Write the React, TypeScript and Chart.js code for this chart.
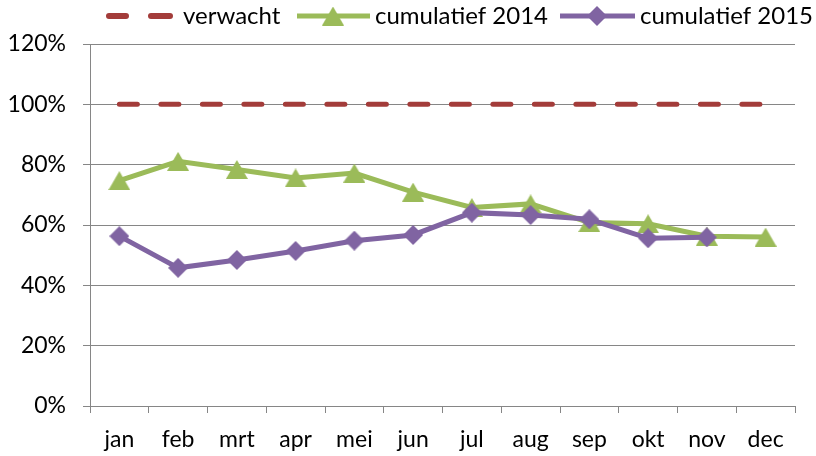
import React, { useEffect, useRef } from 'react';
import { Chart, registerables } from 'chart.js';

Chart.register(...registerables);

const months = ['jan', 'feb', 'mrt', 'apr', 'mei', 'jun', 'jul', 'aug', 'sep', 'okt', 'nov', 'dec'];
const verwacht = [100, 100, 100, 100, 100, 100, 100, 100, 100, 100, 100, 100];
const cumulatief2014 = [74.7, 81.1, 78.4, 75.6, 77.2, 70.9, 65.8, 67.0, 60.8, 60.4, 56.3, 56.0];
const cumulatief2015 = [56.3, 45.8, 48.4, 51.4, 54.8, 56.7, 64.1, 63.3, 61.9, 55.6, 55.9, null];
const yMin = 0;
const yMax = 120;
const yStep = 20;
const seriesNames = ['verwacht', 'cumulatief 2014', 'cumulatief 2015'];

const RED = '#A33C3A';
const GREEN = '#9BBB59';
const PURPLE = '#8064A2';
const GRID = '#868686';
const FONT = 'Lato';
const FSIZE = 23;
const LSIZE = 24;

function makeTriangle(color: string, w: number, h: number) {
  const c = document.createElement('canvas');
  c.width = w;
  c.height = h;
  const ctx = c.getContext('2d')!;
  ctx.fillStyle = color;
  ctx.beginPath();
  ctx.moveTo(w / 2, 0);
  ctx.lineTo(w, h);
  ctx.lineTo(0, h);
  ctx.closePath();
  ctx.fill();
  return c;
}

function makeDiamond(color: string, w: number, h: number) {
  const c = document.createElement('canvas');
  c.width = w;
  c.height = h;
  const ctx = c.getContext('2d')!;
  ctx.fillStyle = color;
  ctx.beginPath();
  ctx.moveTo(w / 2, 0);
  ctx.lineTo(w, h / 2);
  ctx.lineTo(w / 2, h);
  ctx.lineTo(0, h / 2);
  ctx.closePath();
  ctx.fill();
  return c;
}

export default function App() {
  const ref = useRef<HTMLCanvasElement | null>(null);

  useEffect(() => {
    if (!ref.current) return;
    const tri = makeTriangle(GREEN, 22, 19);
    const dia = makeDiamond(PURPLE, 20, 20);

    const legendPlugin = {
      id: 'customLegend',
      afterDraw(chart: any) {
        const ctx = chart.ctx;
        const y = 16;
        ctx.save();
        ctx.strokeStyle = RED;
        ctx.lineWidth = 6;
        ctx.lineCap = 'round';
        ctx.beginPath();
        ctx.moveTo(109, y);
        ctx.lineTo(126, y);
        ctx.moveTo(151, y);
        ctx.lineTo(170, y);
        ctx.stroke();
        ctx.lineCap = 'butt';
        ctx.lineWidth = 5;
        ctx.strokeStyle = GREEN;
        ctx.beginPath();
        ctx.moveTo(297, y);
        ctx.lineTo(370, y);
        ctx.stroke();
        ctx.drawImage(tri, 333 - 11, y - 9.5);
        ctx.strokeStyle = PURPLE;
        ctx.beginPath();
        ctx.moveTo(560, y);
        ctx.lineTo(635, y);
        ctx.stroke();
        ctx.drawImage(dia, 597 - 10, y - 10);
        ctx.fillStyle = '#000';
        ctx.font = `${LSIZE}px ${FONT}`;
        ctx.textBaseline = 'middle';
        ctx.textAlign = 'left';
        ctx.fillText(seriesNames[0], 183, y);
        ctx.fillText(seriesNames[1], 375, y);
        ctx.fillText(seriesNames[2], 640, y);
        ctx.restore();
      },
    };

    const chart = new Chart(ref.current, {
      type: 'line',
      data: {
        labels: months,
        datasets: [
          {
            label: seriesNames[0],
            data: verwacht,
            borderColor: RED,
            backgroundColor: RED,
            borderWidth: 5,
            borderDash: [18, 23.5],
            borderCapStyle: 'round',
            pointRadius: 0,
            tension: 0,
            order: 2,
          },
          {
            label: seriesNames[1],
            data: cumulatief2014,
            borderColor: GREEN,
            backgroundColor: GREEN,
            borderWidth: 5,
            pointStyle: tri as any,
            pointRadius: 10,
            tension: 0,
            order: 1,
          },
          {
            label: seriesNames[2],
            data: cumulatief2015,
            borderColor: PURPLE,
            backgroundColor: PURPLE,
            borderWidth: 5,
            pointStyle: dia as any,
            pointRadius: 10,
            tension: 0,
            spanGaps: false,
            order: 0,
          },
        ],
      },
      options: {
        animation: false,
        responsive: false,
        devicePixelRatio: 1,
        layout: { padding: { top: 44, right: 21, left: 0, bottom: 0 } },
        plugins: {
          legend: { display: false },
          tooltip: { enabled: false },
        },
        scales: {
          x: {
            type: 'category',
            offset: true,
            grid: {
              offset: true,
              drawOnChartArea: false,
              drawTicks: true,
              tickLength: 7,
              color: GRID,
              lineWidth: 1,
            },
            border: { color: GRID, width: 1 },
            ticks: {
              color: '#000',
              font: { family: FONT, size: FSIZE },
              padding: 13,
              maxRotation: 0,
              autoSkip: false,
            },
            afterFit: (s: any) => {
              s.height = 50;
            },
          },
          y: {
            min: yMin,
            max: yMax,
            grid: {
              color: GRID,
              lineWidth: 1,
              tickLength: 7,
            },
            border: { color: GRID, width: 1 },
            ticks: {
              stepSize: yStep,
              color: '#000',
              font: { family: FONT, size: FSIZE },
              padding: 17,
              callback: (v: any) => `${v}%`,
            },
            afterFit: (s: any) => {
              s.width = 90;
            },
          },
        },
      },
      plugins: [legendPlugin],
    });
    return () => chart.destroy();
  }, []);

  return (
    <div style={{ position: 'absolute', left: 0, top: 0, width: 816, height: 456, background: '#fff' }}>
      <canvas ref={ref} width={816} height={456} style={{ width: 816, height: 456 }} />
    </div>
  );
}
